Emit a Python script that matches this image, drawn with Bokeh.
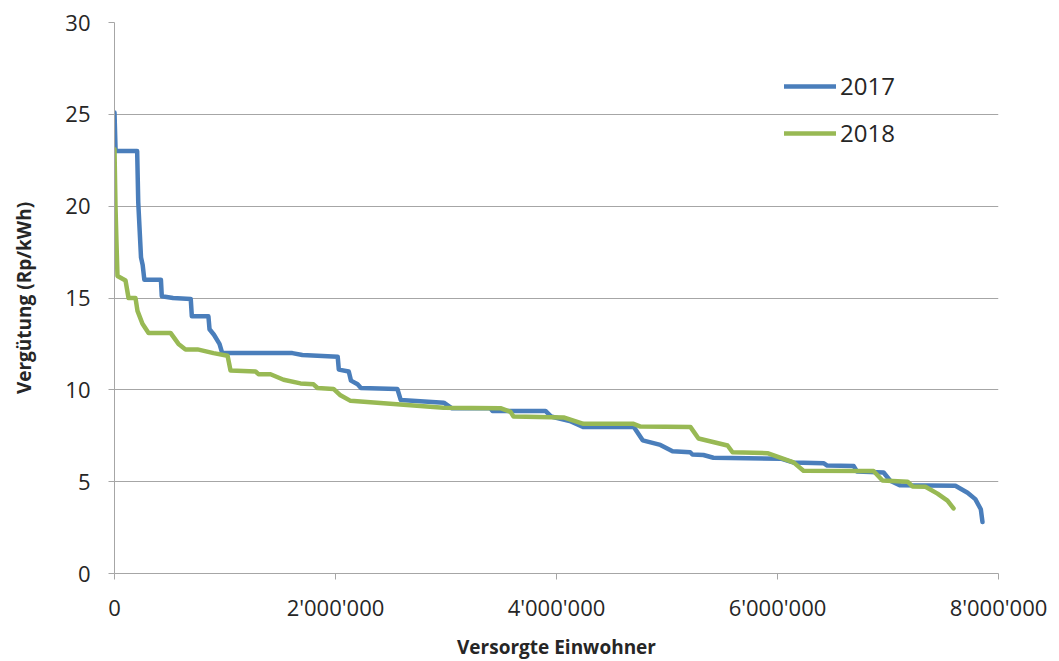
from bokeh.plotting import figure
from bokeh.models import Range1d, FixedTicker, Legend, LegendItem
from bokeh.embed import file_html
from bokeh.resources import INLINE

# 2017 series: supplied inhabitants (cumulative) vs. remuneration (Rp/kWh)
x_2017 = [0, 10e3, 205e3, 215e3, 240e3, 255e3, 270e3, 420e3, 428e3, 530e3, 690e3, 700e3,
          850e3, 860e3, 900e3, 950e3, 975e3, 1610e3, 1700e3, 2020e3, 2030e3, 2120e3,
          2140e3, 2200e3, 2230e3, 2560e3, 2590e3, 2980e3, 3050e3, 3400e3, 3420e3, 3900e3,
          3950e3, 4120e3, 4240e3, 4700e3, 4780e3, 4940e3, 5050e3, 5210e3, 5230e3, 5330e3,
          5420e3, 6030e3, 6140e3, 6420e3, 6450e3, 6690e3, 6720e3, 6960e3, 7020e3, 7110e3,
          7610e3, 7720e3, 7790e3, 7840e3, 7855e3]
y_2017 = [25.1, 23.0, 23.0, 20.2, 17.2, 16.8, 16.0, 16.0, 15.1, 15.0, 14.95, 14.0,
          14.0, 13.3, 13.0, 12.5, 12.0, 12.0, 11.9, 11.8, 11.1, 11.0,
          10.5, 10.3, 10.1, 10.05, 9.45, 9.3, 9.0, 9.0, 8.85, 8.85,
          8.55, 8.3, 7.98, 7.98, 7.25, 7.0, 6.65, 6.6, 6.48, 6.45,
          6.3, 6.25, 6.05, 6.0, 5.88, 5.85, 5.55, 5.5, 5.05, 4.8,
          4.78, 4.4, 4.05, 3.5, 2.8]

# 2018 series
x_2018 = [0, 9e3, 18e3, 27e3, 100e3, 127e3, 190e3, 208e3, 253e3, 308e3, 507e3, 579e3,
          643e3, 751e3, 896e3, 1023e3, 1050e3, 1276e3, 1303e3, 1412e3, 1530e3, 1683e3,
          1801e3, 1837e3, 1982e3, 2045e3, 2136e3, 2977e3, 3493e3, 3584e3, 3611e3, 4064e3,
          4244e3, 4697e3, 4760e3, 5213e3, 5285e3, 5548e3, 5593e3, 5909e3, 6145e3, 6235e3,
          6869e3, 6950e3, 7177e3, 7222e3, 7339e3, 7448e3, 7538e3, 7593e3]
y_2018 = [23.1, 20.0, 18.0, 16.2, 15.95, 15.0, 15.0, 14.3, 13.6, 13.1, 13.1, 12.5,
          12.2, 12.2, 12.0, 11.86, 11.05, 11.0, 10.85, 10.85, 10.55, 10.35,
          10.3, 10.1, 10.05, 9.7, 9.4, 9.03, 9.0, 8.8, 8.55, 8.5,
          8.15, 8.15, 8.0, 7.97, 7.35, 6.97, 6.6, 6.55, 6.05, 5.6,
          5.58, 5.06, 5.0, 4.74, 4.72, 4.35, 3.97, 3.54]

x_ticks = [0, 2000000, 4000000, 6000000, 8000000]
x_tick_labels = ["0", "2'000'000", "4'000'000", "6'000'000", "8'000'000"]
y_ticks = [0, 5, 10, 15, 20, 25, 30]
series_names = ["2017", "2018"]

FONT = "'Open Sans', sans-serif"
GRID = "#A6A6A6"
TXT = "#262626"

p = figure(width=1059, height=661, frame_width=884, frame_height=551,
           x_range=Range1d(0, 8e6), y_range=Range1d(0, 30),
           output_backend="svg", toolbar_location=None,
           min_border_left=114, min_border_right=61, min_border_top=22, min_border_bottom=10)
p.outline_line_color = None
p.background_fill_color = "white"

l1 = p.line(x_2017, y_2017, line_color="#4A7EBB", line_width=4.5, line_join="round", line_cap="round")
l2 = p.line(x_2018, y_2018, line_color="#98B954", line_width=4.5, line_join="round", line_cap="round")

p.xaxis.ticker = FixedTicker(ticks=x_ticks)
p.xaxis.major_label_overrides = {t: s for t, s in zip(x_ticks, x_tick_labels)}
p.yaxis.ticker = FixedTicker(ticks=y_ticks)

for ax in (p.xaxis[0], p.yaxis[0]):
    ax.axis_line_color = GRID
    ax.major_tick_line_color = GRID
    ax.minor_tick_line_color = None
    ax.major_tick_in = 0
    ax.major_tick_out = 6
    ax.major_label_text_font = FONT
    ax.major_label_text_font_size = "22px"
    ax.major_label_text_color = TXT
    ax.axis_label_text_font = FONT
    ax.axis_label_text_font_style = "bold"
    ax.axis_label_text_font_size = "19px"
    ax.axis_label_text_color = TXT

p.xaxis.axis_label = "Versorgte Einwohner"
p.yaxis.axis_label = "Vergütung (Rp/kWh)"
p.xaxis.major_label_standoff = 12
p.yaxis.major_label_standoff = 18
p.xaxis.axis_label_standoff = 9
p.yaxis.axis_label_standoff = 25

p.xgrid.grid_line_color = None
p.ygrid.grid_line_color = GRID
p.ygrid.grid_line_width = 1

legend = Legend(items=[LegendItem(label=series_names[0], renderers=[l1]),
                       LegendItem(label=series_names[1], renderers=[l2])],
                location=(660, 414))
legend.background_fill_alpha = 0
legend.border_line_alpha = 0
legend.glyph_width = 52
legend.glyph_height = 20
legend.label_text_font = FONT
legend.label_text_font_size = "24px"
legend.label_text_color = TXT
legend.spacing = 14
legend.label_standoff = 4
p.add_layout(legend)

open("out.html", "w").write(file_html(p, INLINE))
